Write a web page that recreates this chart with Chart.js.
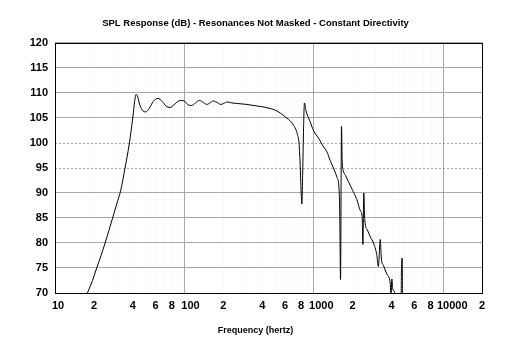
<!DOCTYPE html>
<html><head><meta charset="utf-8">
<script src="https://cdn.jsdelivr.net/npm/chart.js@4"></script>
<style>html,body{margin:0;padding:0;background:#fff}#wrap{width:511px;height:352px}</style>
</head><body><div id="wrap"><canvas id="c" width="511" height="352"></canvas></div>
<script>
const chartTitle = 'SPL Response (dB) - Resonances Not Masked - Constant Directivity';
const xAxisTitle = 'Frequency (hertz)';
const freqsHz = [17.8,19.5,21,22.7,24.4,26.1,27.9,30,32.2,34.8,37.6,39.9,41.3,42.3,43.4,45,47.2,50.2,53.5,57.5,62.5,67.5,72,77.5,83,89,95,101,107,114,122,130.5,140,149,158,167.5,179,191,202,214,232,254,304,385,460,510,550,617,660,696,725,748,770,785,800,810,822,835,848,870,937,995,1100,1190,1262,1340,1420,1510,1570,1590,1612,1640,1662,1690,1760,1854,2000,2153,2300,2370,2400,2440,2480,2600,2730,2897,3070,3160,3270,3330,3460,3675,3900,3960,4020,4080,4200,4350,4600,4740,4760,4830,4860,5100];
const splDb = [70,72.5,75,77.5,80,82.5,85,87.8,90.5,95,100,105,108.3,109.7,109.4,107.8,106.6,106.2,106.9,108.3,108.9,108.3,107.4,107.1,107.6,108.3,108.5,108.3,107.6,107.5,108,108.5,108.1,107.7,108,108.4,108.1,107.7,107.9,108.2,108,107.9,107.7,107.3,106.9,106.5,106,105,104.4,103.6,102.8,101.7,100,96,90,87.8,94,103,108,106.5,104.3,102.5,100.8,99.2,98.3,96.5,95,93.2,90.8,86,72.7,103.3,96,94.5,93.5,92.3,90.5,88.7,86.4,85.2,79.7,90,84.7,82.6,81.3,80,77.7,75.3,80.7,77,75.5,73.8,72,69.5,72.8,70.9,70.3,69.4,68.6,68.4,73.3,77,68,67];
const xGridValues = [10,20,30,40,50,60,70,80,90,100,200,300,400,500,600,700,800,900,1000,2000,3000,4000,5000,6000,7000,8000,9000,10000,20000];
const xMajorValues = [10,100,1000,10000];
const xLabelValues = [10,20,40,60,80,100,200,400,600,800,1000,2000,4000,6000,8000,10000,20000];
const xLabelTexts = ['  10','2','4','6','8','    100','2','4','6','8','     1000','2','4','6','8','      10000','2'];
const yDottedValues = [95,100];

const font = {family:'Liberation Sans', size:11, weight:'bold'};
const titleFont = {family:'Liberation Sans', size:9.5, weight:'bold'};
const xTitleFont = {family:'Liberation Sans', size:9, weight:'bold'};

const extraGrid = {
  id:'extraGrid',
  beforeDatasetsDraw(chart){
    const {ctx, chartArea:a, scales:{x,y}} = chart;
    ctx.save();
    ctx.lineWidth = 1;
    ctx.setLineDash([1,3]);
    ctx.strokeStyle = 'rgba(200,200,160,0.35)';
    xGridValues.filter(v=>!xMajorValues.includes(v)).forEach(v=>{
      const px = Math.round(x.getPixelForValue(v))+0.5;
      ctx.beginPath(); ctx.moveTo(px,a.top); ctx.lineTo(px,a.bottom); ctx.stroke();
    });
    ctx.setLineDash([2,2]);
    ctx.strokeStyle = '#b8a0b0';
    yDottedValues.forEach(v=>{
      const py = Math.round(y.getPixelForValue(v))+0.5;
      ctx.beginPath(); ctx.moveTo(a.left,py); ctx.lineTo(a.right,py); ctx.stroke();
    });
    ctx.restore();
  },
  afterDraw(chart){
    const {ctx, chartArea:a} = chart;
    ctx.save();
    ctx.strokeStyle = '#000'; ctx.lineWidth = 1;
    ctx.strokeRect(Math.round(a.left)+0.5, Math.round(a.top)+0.5, Math.round(a.right-a.left), Math.round(a.bottom-a.top));
    ctx.restore();
  }
};

new Chart(document.getElementById('c'), {
  type:'line',
  data:{datasets:[{
    data: freqsHz.map((f,i)=>({x:f, y:splDb[i]})),
    borderColor:'#000', borderWidth:1, pointRadius:0, fill:false,
    cubicInterpolationMode:'monotone'
  }]},
  options:{
    responsive:false, animation:false, devicePixelRatio:1,
    layout:{padding:0},
    plugins:{
      legend:{display:false}, tooltip:{enabled:false},
      title:{display:true, text:chartTitle, color:'#000', font:titleFont, padding:{top:17.5,bottom:14}},
      subtitle:{display:true, position:'bottom', text:xAxisTitle, color:'#000', font:xTitleFont, padding:{top:0,bottom:15.6}}
    },
    scales:{
      x:{type:'logarithmic', min:10, max:20000,
        afterBuildTicks(s){ s.ticks = xGridValues.map(v=>({value:v})); },
        afterFit(s){ s.height = 32.6; },
        ticks:{autoSkip:false, maxRotation:0, minRotation:0, color:'#000', font:font, padding:6,
          callback(v){ const i = xLabelValues.indexOf(v); return i>=0 ? xLabelTexts[i] : ''; }},
        grid:{drawTicks:false, color:(c)=> (c.tick && xMajorValues.includes(c.tick.value)) ? '#a8a8a8' : 'rgba(0,0,0,0)'},
        border:{display:false}
      },
      y:{min:70, max:120,
        afterFit(s){ s.width = 55; },
        ticks:{stepSize:5, color:'#000', font:font, padding:7},
        grid:{drawTicks:false, color:(c)=> (c.tick && yDottedValues.includes(c.tick.value)) ? 'rgba(0,0,0,0)' : '#a8a8a8'},
        border:{display:false}
      },
      yRight:{position:'right', min:70, max:120,
        afterFit(s){ s.width = 29; },
        ticks:{display:false},
        grid:{display:false, drawTicks:false},
        border:{display:false}
      }
    }
  },
  plugins:[extraGrid]
});
</script></body></html>
